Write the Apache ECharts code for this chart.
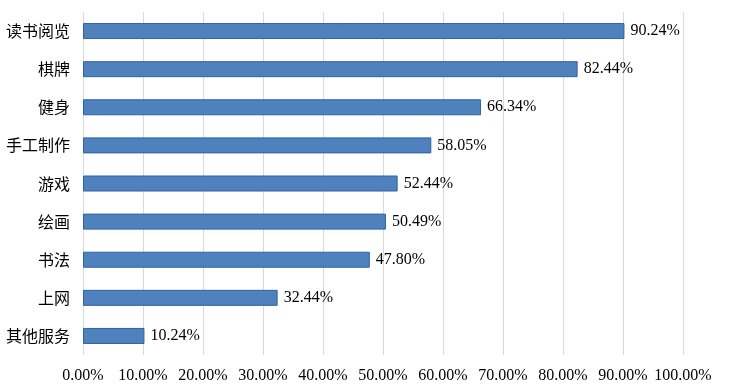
<!DOCTYPE html>
<html><head><meta charset="utf-8">
<script src="https://cdn.jsdelivr.net/npm/echarts@6/dist/echarts.min.js"></script>
<style>html,body{margin:0;padding:0;background:#fff}#c{width:729px;height:391px}</style>
</head><body><div id="c"></div>
<script>
const categories = ['读书阅览','棋牌','健身','手工制作','游戏','绘画','书法','上网','其他服务'];
const values = [90.24, 82.44, 66.34, 58.05, 52.44, 50.49, 47.80, 32.44, 10.24];
const chart = echarts.init(document.getElementById('c'));
chart.setOption({
  animation: false,
  grid: {left: 83, right: 46, top: 12, bottom: 36},
  xAxis: {
    type: 'value', min: 0, max: 100, interval: 10,
    axisLine: {show: false}, axisTick: {show: false},
    splitLine: {lineStyle: {color: '#d9d9d9', width: 1}},
    axisLabel: {formatter: v => v.toFixed(2) + '%', color: '#000', fontFamily: 'Liberation Serif', fontSize: 16, margin: 13}
  },
  yAxis: {
    type: 'category', data: categories, inverse: true,
    axisLine: {show: false}, axisTick: {show: false},
    axisLabel: {color: '#000', fontFamily: 'Noto Sans CJK SC', fontSize: 16, margin: 13}
  },
  series: [{
    type: 'bar', data: values, barWidth: 16,
    itemStyle: {color: '#4F81BD', borderColor: '#2E62A8', borderWidth: 1},
    label: {show: true, position: 'right', distance: 6, formatter: p => p.value.toFixed(2) + '%', color: '#000', fontFamily: 'Liberation Serif', fontSize: 16}
  }]
});
</script></body></html>
